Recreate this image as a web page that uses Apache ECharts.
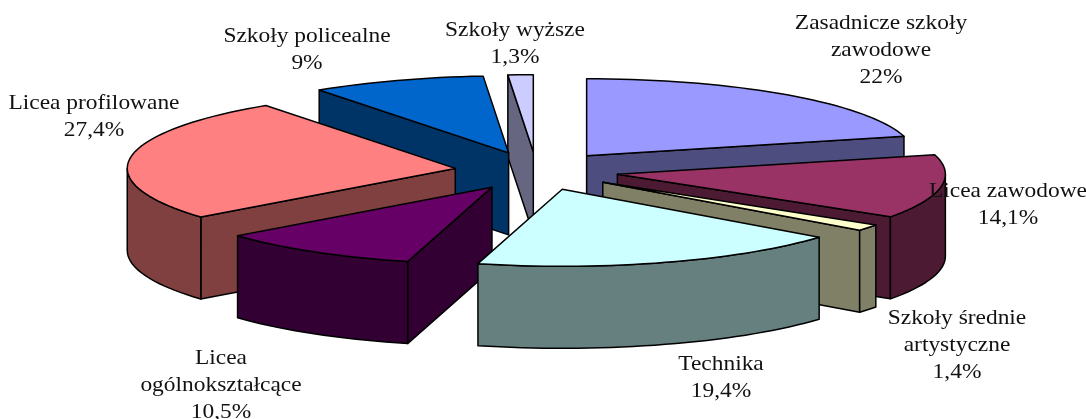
<!DOCTYPE html>
<html><head><meta charset="utf-8">
<style>html,body{margin:0;padding:0;background:#fff}#c{width:1086px;height:419px}</style>
<script src="https://cdn.jsdelivr.net/npm/echarts@6/dist/echarts.min.js"></script>
</head><body><div id="c"></div>
<script>
// Data, clockwise from 12 o'clock (Excel normalises the shares to their total)
const categories = ['Zasadnicze szkoły\nzawodowe','Licea zawodowe','Szkoły średnie\nartystyczne','Technika','Licea\nogólnokształcące','Licea profilowane','Szkoły policealne','Szkoły wyższe'];
const shares = [22, 14.1, 1.4, 19.4, 10.5, 27.4, 9, 1.3];

// Styles
const topColors  = ['#9999FF','#993366','#FFFFCC','#CCFFFF','#660066','#FF8080','#0066CC','#CCCCFF'];
const sideColors = ['#4D4D80','#4D1A33','#808066','#668080','#330033','#804040','#003366','#666680'];
// Label centres (layout)
const labelCentres = [[881,50.5],[1008,205],[957,345.5],[721,378],[221,385],[94,117],[307,50],[515,44]];

// Projection layout of the 3D pie
const CX = 536.5, CY = 171, RX = 328, RY = 77, DEPTH = 82, EXPLODE = 0.25;
const LINE = {stroke:'#000', lineWidth:1.5, lineJoin:'round'};

const total = shares.reduce((a,b)=>a+b,0);
const spans = [];
shares.reduce((acc,v,i)=>{ spans[i]={a:acc/total*2*Math.PI, b:(acc+v)/total*2*Math.PI}; return acc+v; },0);
// back to front painter's order
const order = shares.map((_,i)=>i).sort((p,q)=>Math.cos((spans[q].a+spans[q].b)/2)-Math.cos((spans[p].a+spans[p].b)/2));

function arc(a,b,ox,oy,dz){
  const n=Math.max(1,Math.ceil((b-a)/(Math.PI/90))), pts=[];
  for(let k=0;k<=n;k++){const t=a+(b-a)*k/n; pts.push([ox+RX*Math.sin(t), oy-RY*Math.cos(t)+dz]);}
  return pts;
}
function poly(points,fill){ return {type:'polygon',shape:{points},style:Object.assign({fill},LINE)}; }

function renderSlice(params,api){
  const i=api.value(1), {a,b}=spans[i], mid=(a+b)/2;
  const ox=CX+EXPLODE*RX*Math.sin(mid), oy=CY-EXPLODE*RY*Math.cos(mid);
  const side=sideColors[i], children=[];
  const apex=[ox,oy], apexB=[ox,oy+DEPTH];
  const P=(t,dz)=>[ox+RX*Math.sin(t), oy-RY*Math.cos(t)+dz];
  if(Math.sin(a)<0) children.push(poly([apex,P(a,0),P(a,DEPTH),apexB],side));
  if(Math.sin(b)>0) children.push(poly([apex,P(b,0),P(b,DEPTH),apexB],side));
  const f0=Math.max(a,Math.PI/2), f1=Math.min(b,Math.PI*1.5);
  if(f1>f0) children.push(poly(arc(f0,f1,ox,oy,0).concat(arc(f0,f1,ox,oy,DEPTH).reverse()),side));
  children.push(poly([apex].concat(arc(a,b,ox,oy,0)),topColors[i]));
  return {type:'group',children};
}
function renderLabel(params,api){
  const i=api.value(1), c=labelCentres[i];
  return {type:'text',x:c[0],y:c[1],scaleX:1.115,style:{
    text:categories[i]+'\n'+String(shares[i]).replace('.',',')+'%',
    fill:'#111',font:'21px "Liberation Serif"',lineHeight:27,align:'center',verticalAlign:'middle'}};
}
const data=order.map(i=>[shares[i],i]);
const chart=echarts.init(document.getElementById('c'),null,{renderer:'canvas'});
chart.setOption({
  animation:false,backgroundColor:'#fff',
  series:[
    {type:'custom',coordinateSystem:'none',renderItem:renderSlice,data,silent:true,z:2},
    {type:'custom',coordinateSystem:'none',renderItem:renderLabel,data,silent:true,z:3}
  ]
});
</script></body></html>
